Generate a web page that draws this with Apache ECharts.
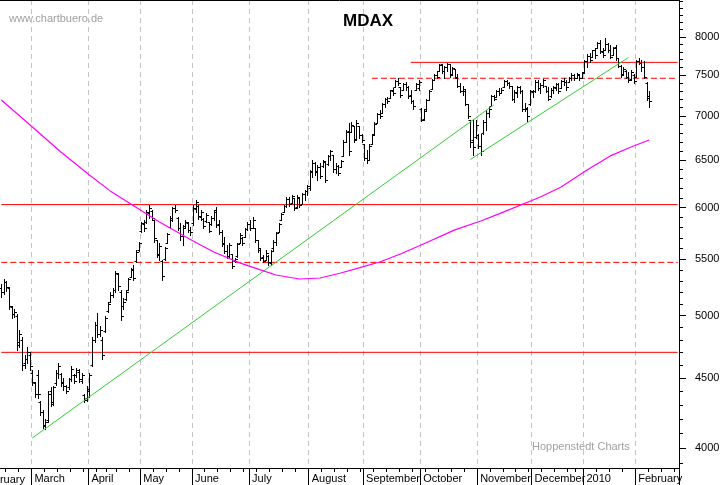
<!DOCTYPE html>
<html>
<head>
<meta charset="utf-8">
<title>MDAX</title>
<script src="https://cdn.jsdelivr.net/npm/echarts@6/dist/echarts.min.js"></script>
<style>
  html, body { margin: 0; padding: 0; background: #fff; }
  #chart { width: 723px; height: 485px; }
</style>
</head>
<body>
<div id="chart"></div>
<script>
// trading calendar
const firstDay = [2009, 1, 12];
const holidays = ['2009-04-10', '2009-04-13', '2009-05-01', '2009-12-24', '2009-12-25', '2009-12-31', '2010-01-01'];
const slotCount = 262;
const monthLabels = ['2010', 'February', 'March', 'April', 'May', 'June', 'July', 'August', 'September', 'October', 'November', 'December'];
const priceLabels = [4000, 4500, 5000, 5500, 6000, 6500, 7000, 7500, 8000];

// daily bars: open, high, low, close
const ohlc = [
  [5240,5270,5160,5200],[5200,5320,5190,5290],[5290,5300,5210,5250],[5240,5250,5060,5080],
  [5070,5080,4980,5010],[5010,5060,4990,5030],[5000,5010,4720,4760],[4780,4880,4740,4850],
  [4800,4820,4560,4600],[4620,4680,4580,4650],[4650,4740,4620,4700],[4680,4700,4560,4590],
  // March
  [4540,4560,4450,4470],[4460,4470,4360,4380],[4520,4560,4350,4380],[4320,4330,4230,4250],
  [4250,4265,4140,4160],[4150,4200,4128,4180],[4190,4400,4180,4380],[4400,4430,4290,4310],
  [4320,4440,4300,4430],[4460,4560,4450,4540],[4540,4620,4500,4590],[4530,4540,4440,4460],
  [4470,4500,4410,4440],[4440,4450,4390,4400],[4430,4500,4420,4490],[4490,4590,4480,4570],
  [4520,4530,4460,4480],[4520,4580,4510,4560],[4550,4570,4470,4490],[4480,4540,4460,4520],
  [4370,4380,4320,4340],[4350,4440,4330,4420],
  // April
  [4400,4540,4360,4520],[4600,4820,4590,4800],[4800,4950,4780,4920],[4920,5020,4820,4850],
  [4850,4910,4830,4880],[4800,4820,4650,4680],[4870,5000,4860,4980],[5040,5120,5030,5100],
  [5120,5200,5120,5180],[5180,5240,5160,5220],[5220,5390,5200,5370],[5360,5370,5220,5260],
  [5200,5220,4960,5000],[5080,5150,5060,5120],[5140,5220,5135,5200],[5220,5330,5220,5320],
  [5340,5420,5340,5410],[5400,5450,5310,5330],[5480,5590,5470,5570],[5590,5660,5580,5650],
  // May
  [5770,5860,5760,5850],[5840,5880,5770,5800],[5860,5980,5850,5960],[5950,6030,5900,6000],
  [5970,5980,5880,5900],[5880,5880,5660,5700],[5680,5680,5520,5550],[5540,5650,5490,5620],
  [5480,5490,5310,5350],[5500,5610,5490,5600],[5650,5750,5650,5740],[5810,5920,5810,5900],
  [5880,6010,5870,6000],[6000,6030,5960,5980],[5900,5910,5780,5800],[5800,5850,5680,5720],
  [5720,5830,5630,5800],[5820,5880,5810,5860],[5850,5860,5760,5780],[5780,5810,5730,5760],
  // June
  [5850,6030,5830,6000],[5990,6080,5960,6060],[6020,6030,5890,5920],[5910,5980,5880,5960],
  [5890,5900,5800,5820],[5870,5950,5860,5930],[5860,5860,5760,5770],[5840,5920,5830,5900],
  [5900,5980,5880,5960],[5980,6010,5810,5830],[5840,5880,5740,5760],[5760,5780,5620,5640],
  [5650,5710,5560,5580],[5580,5630,5510,5530],[5530,5650,5520,5630],[5550,5550,5420,5440],
  [5480,5510,5470,5500],[5530,5650,5520,5640],[5650,5750,5650,5730],[5700,5710,5630,5650],
  [5710,5800,5710,5790],[5790,5860,5780,5840],
  // July
  [5840,5880,5780,5800],[5800,5910,5800,5880],[5800,5800,5660,5680],[5680,5680,5570,5590],
  [5600,5600,5490,5510],[5520,5540,5470,5480],[5490,5590,5490,5560],[5530,5540,5450,5470],
  [5460,5590,5450,5580],[5600,5680,5590,5660],[5660,5760,5630,5750],[5760,5850,5760,5840],
  [5880,5950,5880,5940],[5960,6030,5960,6020],[6020,6110,6010,6090],[6090,6110,6020,6040],
  [6050,6130,6050,6120],[6100,6100,5980,6000],[6010,6130,6000,6110],[6100,6100,6010,6030],
  [6040,6150,6040,6140],[6140,6180,6080,6170],[6170,6230,6130,6220],
  // August
  [6200,6390,6180,6370],[6380,6500,6320,6470],[6470,6480,6340,6380],[6370,6450,6290,6420],
  [6420,6470,6310,6330],[6440,6500,6430,6490],[6480,6480,6260,6290],[6460,6560,6450,6550],
  [6550,6610,6500,6600],[6560,6560,6370,6400],[6400,6470,6360,6440],[6440,6450,6340,6360],
  [6420,6500,6420,6490],[6550,6720,6540,6700],[6700,6840,6700,6820],[6830,6920,6560,6600],
  [6820,6930,6810,6900],[6880,6880,6700,6720],[6730,6960,6720,6920],[6880,6880,6750,6780],
  [6780,6790,6700,6720],
  // September
  [6680,6680,6500,6520],[6520,6610,6470,6500],[6500,6680,6500,6660],[6680,6790,6680,6780],
  [6790,6930,6790,6910],[6920,7040,6920,7020],[7020,7070,6980,7000],[7040,7160,7040,7150],
  [7150,7220,7110,7200],[7200,7230,7160,7180],[7220,7320,7220,7310],[7300,7340,7250,7280],
  [7350,7440,7350,7430],[7430,7470,7380,7400],[7350,7350,7230,7250],[7320,7400,7320,7390],
  [7390,7410,7320,7350],[7350,7370,7220,7240],[7250,7320,7160,7180],[7180,7190,7090,7120],
  [7320,7400,7320,7390],[7340,7440,7320,7420],
  // October
  [7090,7100,6940,6960],[6970,7090,6950,7060],[7080,7210,7070,7190],[7190,7320,7190,7300],
  [7330,7450,7330,7440],[7440,7510,7440,7500],[7500,7550,7460,7480],[7560,7640,7560,7630],
  [7640,7640,7530,7550],[7560,7620,7460,7600],[7600,7660,7560,7640],[7640,7640,7480,7500],
  [7510,7600,7510,7590],[7580,7580,7460,7470],[7480,7510,7350,7370],[7370,7400,7290,7300],
  [7300,7370,7250,7330],[7300,7320,7130,7150],[7150,7150,6980,7000],[6960,6960,6640,6700],
  [6720,6970,6560,6650],[6760,6950,6750,6900],
  // November
  [6780,6790,6630,6660],[6660,6790,6560,6600],[6800,6950,6790,6930],[6930,7070,6840,7040],
  [7040,7110,6990,7090],[7120,7250,7120,7240],[7240,7250,7190,7200],[7230,7320,7230,7300],
  [7300,7340,7250,7280],[7280,7340,7280,7320],[7350,7440,7350,7430],[7430,7440,7380,7400],
  [7400,7420,7340,7360],[7360,7370,7190,7210],[7210,7320,7170,7290],[7280,7370,7230,7350],
  [7350,7370,7280,7300],[7300,7320,7060,7080],[7080,7160,7060,7100],[7080,7110,6940,7000],
  [7140,7320,7130,7300],
  // December
  [7290,7320,7230,7300],[7300,7440,7290,7420],[7420,7440,7320,7340],[7340,7400,7280,7380],
  [7380,7450,7350,7440],[7370,7370,7290,7300],[7300,7350,7190,7210],[7240,7340,7230,7320],
  [7320,7360,7280,7350],[7340,7400,7320,7390],[7390,7400,7280,7300],[7340,7440,7340,7430],
  [7430,7460,7380,7420],[7420,7440,7320,7350],[7410,7480,7410,7470],[7470,7530,7440,7500],
  [7500,7520,7440,7460],[7470,7530,7470,7520],[7500,7500,7440,7470],[7470,7540,7460,7530],
  // January 2010
  [7540,7690,7540,7680],[7680,7770,7610,7750],[7750,7790,7670,7700],[7740,7830,7740,7820],
  [7820,7850,7720,7760],[7850,7930,7850,7920],[7920,7960,7790,7810],[7800,7850,7740,7760],
  [7830,7990,7830,7900],[7900,7920,7800,7820],[7820,7890,7720,7740],[7760,7870,7760,7850],
  [7860,7890,7700,7720],[7720,7720,7610,7620],[7620,7630,7480,7500],[7520,7600,7510,7580],
  [7560,7570,7470,7480],[7480,7540,7420,7440],[7450,7570,7440,7540],[7500,7520,7400,7430],
  // February 2010
  [7480,7700,7480,7680],[7680,7720,7640,7660],[7660,7690,7560,7600],[7600,7680,7460,7480],
  [7400,7420,7190,7220],[7240,7300,7110,7180]
];

// 200 day average, read at some days: [day index, value]
const movingAvg = [
  [0,7193],[12,6874],[23,6590],[34,6339],[42,6171],[50,6037],[61,5856],[74,5671],
  [82,5567],[92,5465],[100,5401],[106,5355],[115,5319],[123,5328],[131,5373],[138,5419],
  [146,5474],[154,5548],[162,5633],[175,5778],[185,5866],[192,5936],[208,6108],[216,6212],
  [226,6393],[235,6546],[243,6645],[250,6724]
];

// trend lines: [[day, value], [day, value]]
const trendLines = [
  [[12, 4068], [190, 7133]],
  [[181, 6507], [242, 7728]]
];

// horizontal levels: first day, value, dashed
const levels = [
  { from: 0, value: 6030, dashed: false },
  { from: 0, value: 5470, dashed: true },
  { from: 0, value: 4700, dashed: false },
  { from: 158, value: 7665, dashed: false },
  { from: 143, value: 7462, dashed: true }
];

const L = Math.log;
const yMin = L(3867), yMax = L(8515);
const font = '"Liberation Sans", Arial, sans-serif';

const days = [];
const d = new Date(Date.UTC(firstDay[0], firstDay[1], firstDay[2]));
while (days.length < slotCount) {
  const wd = d.getUTCDay();
  const iso = d.toISOString().slice(0, 10);
  if (wd !== 0 && wd !== 6 && holidays.indexOf(iso) < 0) days.push(new Date(d.getTime()));
  d.setUTCDate(d.getUTCDate() + 1);
}
const categories = days.map(x => x.toISOString().slice(0, 10));
const monthStart = days.map((x, i) => i > 0 && x.getUTCMonth() !== days[i - 1].getUTCMonth());
const weekStart = days.map((x, i) => i > 0 && !monthStart[i] && x.getUTCDay() <= days[i - 1].getUTCDay());

const minorTicks = [];
for (let v = 3900; v <= 8500; v += 100) minorTicks.push(L(v));

const chart = echarts.init(document.getElementById('chart'));

const lastIdx = slotCount - 1;
const red = '#ff0000';

const series = [];

levels.forEach(lv => {
  series.push({
    type: 'line', z: 1, symbol: 'none', silent: true, color: red,
    data: [[lv.from, L(lv.value)], [lastIdx, L(lv.value)]],
    lineStyle: { color: red, width: 1, type: lv.dashed ? [6, 3] : 'solid' }
  });
});

series.push({
  type: 'custom', z: 3,
  data: ohlc.map((r, i) => [i, L(r[0]), L(r[1]), L(r[2]), L(r[3])]),
  encode: { x: 0, y: [1, 2, 3, 4] },
  renderItem: function (params, api) {
    const i = api.value(0);
    const o = api.coord([i, api.value(1)]);
    const h = api.coord([i, api.value(2)]);
    const l = api.coord([i, api.value(3)]);
    const c = api.coord([i, api.value(4)]);
    const x = Math.round(o[0]) + 0.5;
    const yo = Math.round(o[1]) + 0.5, yc = Math.round(c[1]) + 0.5;
    const style = { stroke: '#000', lineWidth: 1 };
    return {
      type: 'group',
      children: [
        { type: 'line', shape: { x1: x, y1: Math.round(h[1]), x2: x, y2: Math.round(l[1]) + 1 }, style },
        { type: 'line', shape: { x1: x - 2, y1: yo, x2: x, y2: yo }, style },
        { type: 'line', shape: { x1: x, y1: yc, x2: x + 2.5, y2: yc }, style }
      ]
    };
  }
});

trendLines.forEach(t => {
  series.push({
    type: 'line', z: 4, symbol: 'none', silent: true, color: '#33cc33',
    data: t.map(p => [p[0], L(p[1])]),
    lineStyle: { color: '#33cc33', width: 1 }
  });
});

series.push({
  type: 'line', z: 5, symbol: 'none', silent: true, smooth: false, color: '#ff00ff',
  data: movingAvg.map(p => [p[0], L(p[1])]),
  lineStyle: { color: '#ff00ff', width: 1.2 }
});

chart.setOption({
  animation: false,
  backgroundColor: '#fff',
  grid: { left: 0, right: 44, top: 0, bottom: 17, containLabel: false, outerBoundsMode: 'none' },
  xAxis: [
    {
      type: 'category', data: categories, position: 'bottom', boundaryGap: true,
      axisLine: { show: true, lineStyle: { color: '#000', width: 1 } },
      axisTick: { show: true, interval: i => monthStart[i], length: 17, lineStyle: { color: '#000' } },
      axisLabel: {
        show: true, interval: i => monthStart[i],
        formatter: v => monthLabels[Number(v.slice(5, 7)) - 1],
        align: 'left', padding: [0, 0, 0, 2], margin: 5,
        color: '#000', fontSize: 11, fontFamily: font
      },
      splitLine: { show: true, interval: i => monthStart[i], lineStyle: { color: '#c4c4c4', width: 1, type: [5, 4] } }
    },
    {
      type: 'category', data: categories, position: 'bottom', boundaryGap: true,
      axisLine: { show: false },
      axisTick: { show: true, interval: i => weekStart[i], length: 4, lineStyle: { color: '#000' } },
      axisLabel: { show: false },
      splitLine: { show: false }
    },
    {
      type: 'category', data: categories, position: 'top', boundaryGap: true,
      axisLine: { show: true, lineStyle: { color: '#000', width: 1 } },
      axisTick: { show: false }, axisLabel: { show: false }, splitLine: { show: false }
    }
  ],
  yAxis: [
    {
      type: 'value', position: 'right', min: yMin, max: yMax,
      axisLine: { show: true, lineStyle: { color: '#000', width: 1 } },
      axisTick: { show: true, customValues: priceLabels.map(L), length: 7, lineStyle: { color: '#000' } },
      axisLabel: {
        show: true, customValues: priceLabels.map(L),
        formatter: v => String(Math.round(Math.exp(v))),
        margin: 16, color: '#000', fontSize: 11, fontFamily: font
      },
      splitLine: { show: false }
    },
    {
      type: 'value', position: 'right', min: yMin, max: yMax,
      axisLine: { show: false },
      axisTick: { show: true, customValues: minorTicks, length: 4, lineStyle: { color: '#000' } },
      axisLabel: { show: false },
      splitLine: { show: false }
    }
  ],
  graphic: [
    { type: 'text', x: 368, y: 21, style: { text: 'MDAX', font: 'bold 17px ' + font, fill: '#000', align: 'center', verticalAlign: 'middle' } },
    { type: 'text', x: 9, y: 19, style: { text: 'www.chartbuero.de', font: '11px ' + font, fill: '#a0a0a0', verticalAlign: 'middle' } },
    { type: 'text', x: 532, y: 447, style: { text: 'Hoppenstedt Charts', font: '11px ' + font, fill: '#a0a0a0', verticalAlign: 'middle' } },
    { type: 'text', x: -19, y: 480, style: { text: 'February', font: '11px ' + font, fill: '#000', verticalAlign: 'middle' } }
  ],
  series: series
});
</script>
</body>
</html>
